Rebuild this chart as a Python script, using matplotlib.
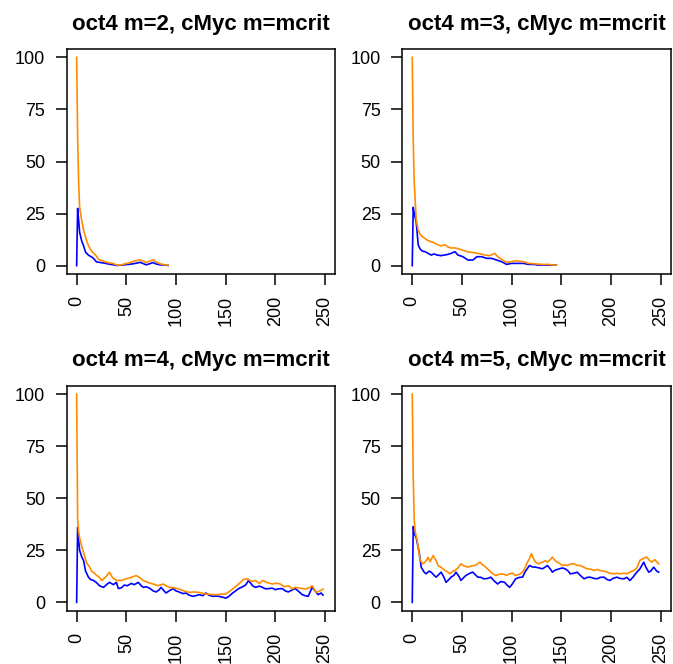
import matplotlib
matplotlib.use("Agg")
import matplotlib.pyplot as plt

plt.rcParams["font.family"] = ["Liberation Sans", "DejaVu Sans"]

# (time, value)
m2_x_orange = [0, 1, 2, 3, 5, 7, 10, 12, 15, 18, 20, 22, 25, 28, 31, 35, 38, 40, 44, 48, 52, 55, 58, 61, 64, 67, 70, 73, 77, 80, 84, 88, 92]
m2_orange = [100, 62, 40, 28, 22, 17, 12, 9.5, 7, 5.5, 4.5, 3, 2.5, 2, 1.5, 1.2, 0.8, 0.3, 0.3, 0.8, 1.2, 1.7, 2.2, 2.5, 2.8, 2.2, 1.6, 2, 2.8, 1.8, 0.9, 0.5, 0.2]
m2_x_blue = [0, 1, 2, 3, 5, 7, 9, 12, 15, 17, 20, 24, 28, 32, 36, 40, 44, 48, 52, 57, 61, 64, 67, 70, 74, 77, 80, 84, 88, 92]
m2_blue = [0, 27.5, 22, 16, 12, 9.5, 6.5, 5, 4.2, 3.5, 1.8, 1.5, 1.2, 0.8, 0.5, 0.1, 0.2, 0.4, 0.6, 0.9, 1.3, 1.6, 1, 0.4, 1, 1.5, 0.8, 0.4, 0.3, 0.1]

m3_x_orange = [0, 1, 2, 4, 6, 8, 10, 13, 16, 19, 22, 26, 29, 33, 36, 39, 43, 46, 51, 56, 61, 66, 70, 73, 78, 83, 86, 91, 95, 100, 104, 107, 112, 117, 123, 130, 137, 142, 145]
m3_orange = [100, 60, 40, 22, 17, 15, 14, 13, 12, 11.5, 11, 10, 9.5, 10, 9, 8.5, 8.5, 8.2, 7.4, 6.6, 6.3, 5.9, 5.5, 5.1, 4.8, 5.9, 4.3, 2.7, 1.6, 1.9, 2.4, 2.2, 1.9, 1.1, 0.9, 0.6, 0.6, 0.3, 0.3]
m3_x_blue = [0, 1, 2, 4, 6, 8, 10, 13, 16, 19, 22, 25, 29, 32, 35, 39, 43, 46, 51, 56, 61, 65, 70, 75, 80, 85, 90, 95, 100, 107, 112, 117, 122, 127, 134, 142, 145]
m3_blue = [0, 28, 25, 21, 10, 8, 7, 6.7, 5.9, 5.1, 5.6, 5.1, 4.8, 5.1, 5.3, 5.9, 6.7, 5.1, 4.3, 2.7, 2.7, 4.3, 4.3, 3.5, 3.5, 2.7, 1.9, 0.6, 1.1, 1.1, 1.1, 0.6, 0.6, 0.3, 0.3, 0.3, 0.3]

m4_x_orange = [0, 1, 2, 3, 5, 7, 10, 13, 15, 18, 20, 23, 25, 29, 33, 36, 40, 45, 50, 55, 60, 63, 67, 72, 77, 82, 87, 93, 98, 103, 108, 113, 118, 123, 130, 135, 140, 145, 150, 153, 157, 161, 165, 168, 172, 176, 180, 184, 187, 192, 197, 201, 205, 209, 213, 217, 220, 225, 230, 234, 237, 241, 245, 248]
m4_orange = [100, 40, 34, 31, 27, 24, 19, 17, 15, 14, 13, 12, 10.5, 12, 14.5, 12, 10.5, 10.5, 11.3, 12, 12.9, 12, 10.5, 9.5, 8.8, 8, 8.8, 7.2, 7, 6.4, 5.5, 4.8, 5, 4.8, 4, 3.8, 3.7, 3.9, 4, 5, 6.4, 8, 9.6, 11, 11.3, 10, 10.5, 9, 10.5, 9.5, 8.8, 9.2, 8.8, 7.5, 8, 6.5, 7.2, 6.8, 6.4, 7, 8, 4.8, 5.5, 6.4]
m4_x_blue = [0, 1, 2, 3, 5, 7, 9, 12, 14, 17, 20, 23, 27, 30, 33, 37, 40, 42, 45, 48, 51, 55, 58, 62, 65, 67, 70, 74, 77, 80, 83, 85, 88, 90, 93, 97, 100, 103, 107, 110, 113, 117, 120, 123, 127, 130, 133, 137, 140, 143, 147, 150, 153, 157, 160, 163, 167, 170, 173, 177, 180, 184, 187, 190, 193, 197, 200, 203, 207, 210, 213, 217, 220, 224, 227, 230, 233, 237, 240, 243, 246, 248]
m4_blue = [0, 36, 30, 25, 22, 20, 15, 12, 11, 10.5, 9.5, 8, 7.2, 8.5, 9.6, 8.5, 9.6, 6.6, 7, 8.3, 8, 9.1, 8.5, 9.6, 8, 7.2, 7.5, 6.6, 5.5, 5, 6, 7.2, 5.5, 4.5, 5.5, 6.6, 5.5, 5, 4.2, 4.5, 3.5, 2.9, 3.2, 3.7, 3.2, 4.5, 3.5, 2.9, 3, 2.9, 2.5, 2, 2.8, 4.5, 5.5, 6.6, 7.5, 8.3, 10.5, 8, 7.2, 7.8, 7.2, 6.5, 6.6, 6.8, 6.1, 6.5, 6.6, 5.5, 5, 6, 6.6, 5, 3.7, 3.2, 2.9, 7.2, 5.5, 3.7, 4.5, 3.5]

m5_x_orange = [0, 1, 2, 3, 5, 8, 11, 14, 16, 18, 21, 24, 26, 30, 33, 36, 38, 41, 43, 46, 49, 52, 56, 59, 63, 66, 68, 71, 74, 77, 79, 82, 84, 88, 91, 95, 98, 101, 104, 108, 111, 114, 116, 118, 120, 122, 124, 127, 131, 134, 136, 139, 141, 144, 146, 149, 151, 154, 156, 160, 163, 166, 169, 172, 176, 179, 183, 186, 189, 193, 196, 199, 203, 206, 209, 213, 216, 219, 223, 226, 229, 232, 236, 239, 241, 244, 248]
m5_orange = [100, 60, 39.3, 34, 29.6, 20, 18.5, 20, 21.6, 19.5, 22.5, 20, 17.7, 16.5, 15.3, 14.5, 13.7, 15, 15.3, 16.5, 18.5, 17.5, 16.9, 17.5, 17.7, 18.5, 19.3, 18, 16.9, 15.5, 14.5, 13.5, 12.9, 13.5, 13.7, 13, 13.7, 14, 12.9, 13.5, 14.5, 17, 19.3, 21, 23.4, 21, 19.3, 18.5, 19.3, 20, 19.3, 20.5, 21.7, 20, 19.3, 18.5, 17.7, 18, 17.7, 18.5, 18.5, 17.7, 17.7, 17, 16.1, 16, 15.3, 15.8, 15.3, 15, 14.5, 14, 13.7, 14, 13.7, 14, 13.7, 14.5, 15.3, 16.5, 20.1, 21, 21.7, 20, 19.3, 20.5, 18.5]
m5_x_blue = [0, 1, 2, 4, 7, 9, 12, 14, 17, 19, 22, 24, 27, 29, 32, 34, 37, 39, 42, 44, 47, 49, 52, 54, 58, 61, 64, 66, 69, 72, 76, 79, 82, 86, 89, 93, 95, 98, 101, 104, 108, 111, 114, 118, 121, 124, 128, 131, 134, 136, 139, 141, 144, 148, 151, 154, 157, 159, 163, 166, 169, 173, 176, 179, 183, 186, 189, 193, 196, 199, 202, 206, 209, 213, 216, 219, 222, 226, 229, 233, 235, 238, 240, 243, 246, 248]
m5_blue = [0, 36.4, 33, 31, 24, 16.9, 14.5, 13.7, 15, 14.5, 13, 12.1, 13.5, 14.5, 12, 9.6, 11, 12.1, 13, 14.5, 12.5, 10.5, 12, 12.9, 14, 14.5, 13, 12.1, 12, 11.3, 11.5, 12.1, 10.5, 8.8, 10, 9.6, 8.5, 7.2, 9, 11.3, 12, 12.1, 15, 17.7, 17, 16.9, 16.5, 16.1, 17, 17.7, 16, 14.5, 15.5, 16.1, 16.5, 16.1, 15, 13.7, 14, 14.5, 13, 11.3, 12, 12.1, 11.5, 11.3, 12, 12.1, 11, 10.5, 11.5, 12.1, 11.5, 11.3, 12, 10.5, 12, 14.5, 16, 19.3, 17, 14.5, 15, 16.9, 15, 14.5]

titles = ["oct4 m=2, cMyc m=mcrit", "oct4 m=3, cMyc m=mcrit",
          "oct4 m=4, cMyc m=mcrit", "oct4 m=5, cMyc m=mcrit"]
series = [(m2_x_blue, m2_blue, m2_x_orange, m2_orange),
          (m3_x_blue, m3_blue, m3_x_orange, m3_orange),
          (m4_x_blue, m4_blue, m4_x_orange, m4_orange),
          (m5_x_blue, m5_blue, m5_x_orange, m5_orange)]

W, H = 673, 664
fig = plt.figure(figsize=(W / 100, H / 100), dpi=100)

# panel boxes in pixels: left, top
lefts = [66.7, 402.3, 66.7, 402.3]
tops = [49.0, 49.0, 385.7, 385.7]
pw, ph = 268.3, 225.0

for i in range(4):
    ax = fig.add_axes([lefts[i] / W, (H - tops[i] - ph) / H, pw / W, ph / H])
    xb, yb, xo, yo = series[i]
    ax.plot(xb, yb, color="#0000FF", lw=1.2)
    ax.plot(xo, yo, color="#FF8C00", lw=1.2)
    ax.set_xlim(-10, 260)
    ax.set_ylim(-4, 104)
    ax.set_xticks([0, 50, 100, 150, 200, 250])
    ax.set_yticks([0, 25, 50, 75, 100])
    ax.tick_params(axis="x", labelrotation=90, length=8, width=1.1, pad=8, labelsize=13)
    ax.tick_params(axis="y", length=8, width=1.1, pad=7.5, labelsize=13)
    for s in ax.spines.values():
        s.set_linewidth(1.1)
    ax.set_title(titles[i], fontsize=16, fontweight="bold", pad=14)

fig.savefig("out.png", dpi=100)
